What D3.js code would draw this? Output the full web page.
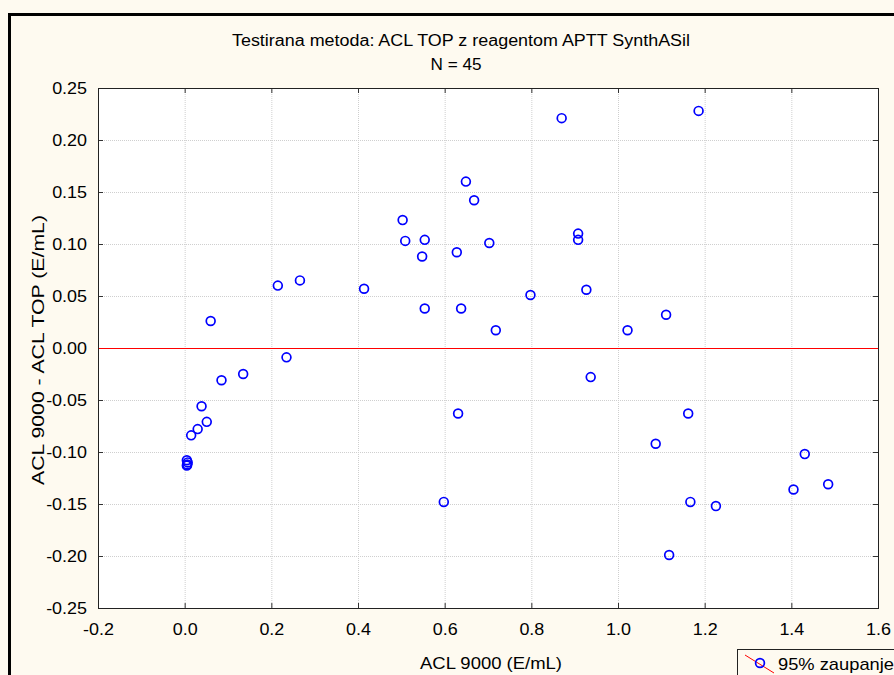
<!DOCTYPE html>
<html>
<head>
<meta charset="utf-8">
<script src="https://cdn.jsdelivr.net/npm/d3@7"></script>
<style>
  html, body { margin: 0; padding: 0; background: #fefaf0; }
  svg { display: block; font-family: "Liberation Sans", Arial, sans-serif; }
</style>
</head>
<body>
<div id="chart"></div>
<script>
(function(d3) {
  'use strict';

  // ACL 9000 values (x) and differences ACL 9000 - ACL TOP (y)
  var aclValues = [
    0.005, 0.007, 0.005, 0.006, 0.015, 0.030, 0.039, 0.051, 0.060, 0.085,
    0.135, 0.215, 0.235, 0.266, 0.414, 0.503, 0.509, 0.554, 0.548, 0.554,
    0.598, 0.628, 0.638, 0.631, 0.649, 0.668, 0.703, 0.718, 0.798, 0.870,
    0.908, 0.908, 0.927, 0.937, 1.022, 1.087, 1.111, 1.118, 1.162, 1.167,
    1.186, 1.226, 1.405, 1.431, 1.485
  ];
  var diffValues = [
    -0.108, -0.110, -0.113, -0.112, -0.084, -0.078, -0.056, -0.071, 0.026, -0.031,
    -0.025, 0.060, -0.009, 0.065, 0.057, 0.123, 0.103, 0.104, 0.088, 0.038,
    -0.148, 0.092, 0.038, -0.063, 0.160, 0.142, 0.101, 0.017, 0.051, 0.221,
    0.110, 0.104, 0.056, -0.028, 0.017, -0.092, 0.032, -0.199, -0.063, -0.148,
    0.228, -0.152, -0.136, -0.102, -0.131
  ];
  var xTicks = [-0.2, 0, 0.2, 0.4, 0.6, 0.8, 1.0, 1.2, 1.4, 1.6];
  var yTicks = [-0.25, -0.2, -0.15, -0.1, -0.05, 0, 0.05, 0.1, 0.15, 0.2, 0.25];
  var refLine = [0];

  var width = 894, height = 675;
  var plot = { left: 98, right: 878, top: 88, bottom: 608 };

  var svg = d3.select('#chart').append('svg')
    .attr('width', width)
    .attr('height', height);

  // stretch text horizontally (reference glyphs are wide)
  function stretch(sel, factor) {
    sel.each(function() {
      var len = this.getComputedTextLength();
      d3.select(this).attr('textLength', len * factor).attr('lengthAdjust', 'spacingAndGlyphs');
    });
  }
  function fitTo(sel, target) {
    sel.attr('textLength', target).attr('lengthAdjust', 'spacingAndGlyphs');
  }

  // outer frame
  svg.append('rect')
    .attr('x', 0).attr('y', 0).attr('width', width).attr('height', height)
    .attr('fill', '#fefaf0');
  svg.append('rect')
    .attr('x', 9.5).attr('y', 14.5).attr('width', width + 20).attr('height', height + 20)
    .attr('fill', 'none').attr('stroke', '#000').attr('stroke-width', 3);

  var x = d3.scaleLinear().domain([-0.2, 1.6]).range([plot.left, plot.right]);
  var y = d3.scaleLinear().domain([-0.25, 0.25]).range([plot.bottom, plot.top]);

  svg.append('rect')
    .attr('x', plot.left).attr('y', plot.top)
    .attr('width', plot.right - plot.left).attr('height', plot.bottom - plot.top)
    .attr('fill', '#fff');

  // dotted grid
  svg.append('g').selectAll('line').data(xTicks.slice(1, -1)).enter().append('line')
    .attr('x1', function(d) { return x(d) + 0.5; }).attr('x2', function(d) { return x(d) + 0.5; })
    .attr('y1', plot.top).attr('y2', plot.bottom)
    .attr('stroke', '#cfcfcf').attr('stroke-dasharray', '1,1');
  svg.append('g').selectAll('line').data(yTicks.slice(1, -1)).enter().append('line')
    .attr('y1', function(d) { return y(d) + 0.5; }).attr('y2', function(d) { return y(d) + 0.5; })
    .attr('x1', plot.left).attr('x2', plot.right)
    .attr('stroke', '#cfcfcf').attr('stroke-dasharray', '1,1');

  // axes with inward ticks
  var fmt2 = d3.format('.2f'), fmt1 = d3.format('.1f');
  function minus(s) { return s.replace('\u2212', '-'); }

  var gx = svg.append('g').attr('transform', 'translate(0,' + plot.bottom + ')')
    .call(d3.axisBottom(x).tickValues(xTicks).tickSizeInner(-5).tickSizeOuter(0)
      .tickPadding(16).tickFormat(function(d) { return minus(fmt1(d)); }));
  var gxTop = svg.append('g').attr('transform', 'translate(0,' + plot.top + ')')
    .call(d3.axisTop(x).tickValues(xTicks).tickSizeInner(-5).tickSizeOuter(0).tickFormat(''));
  var gy = svg.append('g').attr('transform', 'translate(' + plot.left + ',0)')
    .call(d3.axisLeft(y).tickValues(yTicks).tickSizeInner(-5).tickSizeOuter(0)
      .tickPadding(11).tickFormat(function(d) { return minus(fmt2(d)); }));
  var gyR = svg.append('g').attr('transform', 'translate(' + plot.right + ',0)')
    .call(d3.axisRight(y).tickValues(yTicks).tickSizeInner(-5).tickSizeOuter(0).tickFormat(''));

  [gx, gxTop, gy, gyR].forEach(function(g) {
    g.select('.domain').remove();
    g.selectAll('line').attr('stroke', '#333');
    g.selectAll('text').attr('fill', '#000').style('font-size', '16px')
      .style('font-family', '"Liberation Sans", Arial, sans-serif');
  });
  stretch(gx.selectAll('text'), 1.12);
  stretch(gy.selectAll('text'), 1.12);

  // reference line at zero
  svg.append('g').selectAll('line').data(refLine).enter().append('line')
    .attr('x1', plot.left).attr('x2', plot.right)
    .attr('y1', function(d) { return y(d) + 0.5; }).attr('y2', function(d) { return y(d) + 0.5; })
    .attr('stroke', '#ff0000').attr('stroke-width', 1.2);

  // plot border
  svg.append('rect')
    .attr('x', plot.left + 0.5).attr('y', plot.top + 0.5)
    .attr('width', plot.right - plot.left).attr('height', plot.bottom - plot.top)
    .attr('fill', 'none').attr('stroke', '#222').attr('stroke-width', 1);

  // points
  svg.append('g').selectAll('circle').data(aclValues).enter().append('circle')
    .attr('cx', function(d) { return x(d); })
    .attr('cy', function(d, i) { return y(diffValues[i]); })
    .attr('r', 4.4)
    .attr('fill', 'none').attr('stroke', '#0000ff').attr('stroke-width', 1.7);

  // titles
  fitTo(svg.append('text').attr('x', 461).attr('y', 46).attr('text-anchor', 'middle')
    .style('font-size', '16px').text('Testirana metoda: ACL TOP z reagentom APTT SynthASil'), 458);
  fitTo(svg.append('text').attr('x', 456).attr('y', 70).attr('text-anchor', 'middle')
    .style('font-size', '16px').text('N = 45'), 51);
  fitTo(svg.append('text').attr('x', 491).attr('y', 669).attr('text-anchor', 'middle')
    .style('font-size', '16px').text('ACL 9000 (E/mL)'), 142);
  fitTo(svg.append('text')
    .attr('transform', 'translate(44,350) rotate(-90)')
    .attr('text-anchor', 'middle')
    .style('font-size', '16px').text('ACL 9000 - ACL TOP (E/mL)'), 270);

  // legend
  var lg = svg.append('g').attr('transform', 'translate(737,649)');
  lg.append('rect').attr('x', 0.5).attr('y', 0.5).attr('width', 200).attr('height', 60)
    .attr('fill', '#fefaf0').attr('stroke', '#222');
  lg.append('line').attr('x1', 8).attr('y1', 6).attr('x2', 37).attr('y2', 24)
    .attr('stroke', '#ff0000').attr('stroke-width', 1);
  lg.append('circle').attr('cx', 23).attr('cy', 14).attr('r', 4.4)
    .attr('fill', 'none').attr('stroke', '#0000ff').attr('stroke-width', 1.7);
  fitTo(lg.append('text').attr('x', 41).attr('y', 21).style('font-size', '17px').text('95% zaupanje'), 116);
}(d3));
</script>
</body>
</html>
